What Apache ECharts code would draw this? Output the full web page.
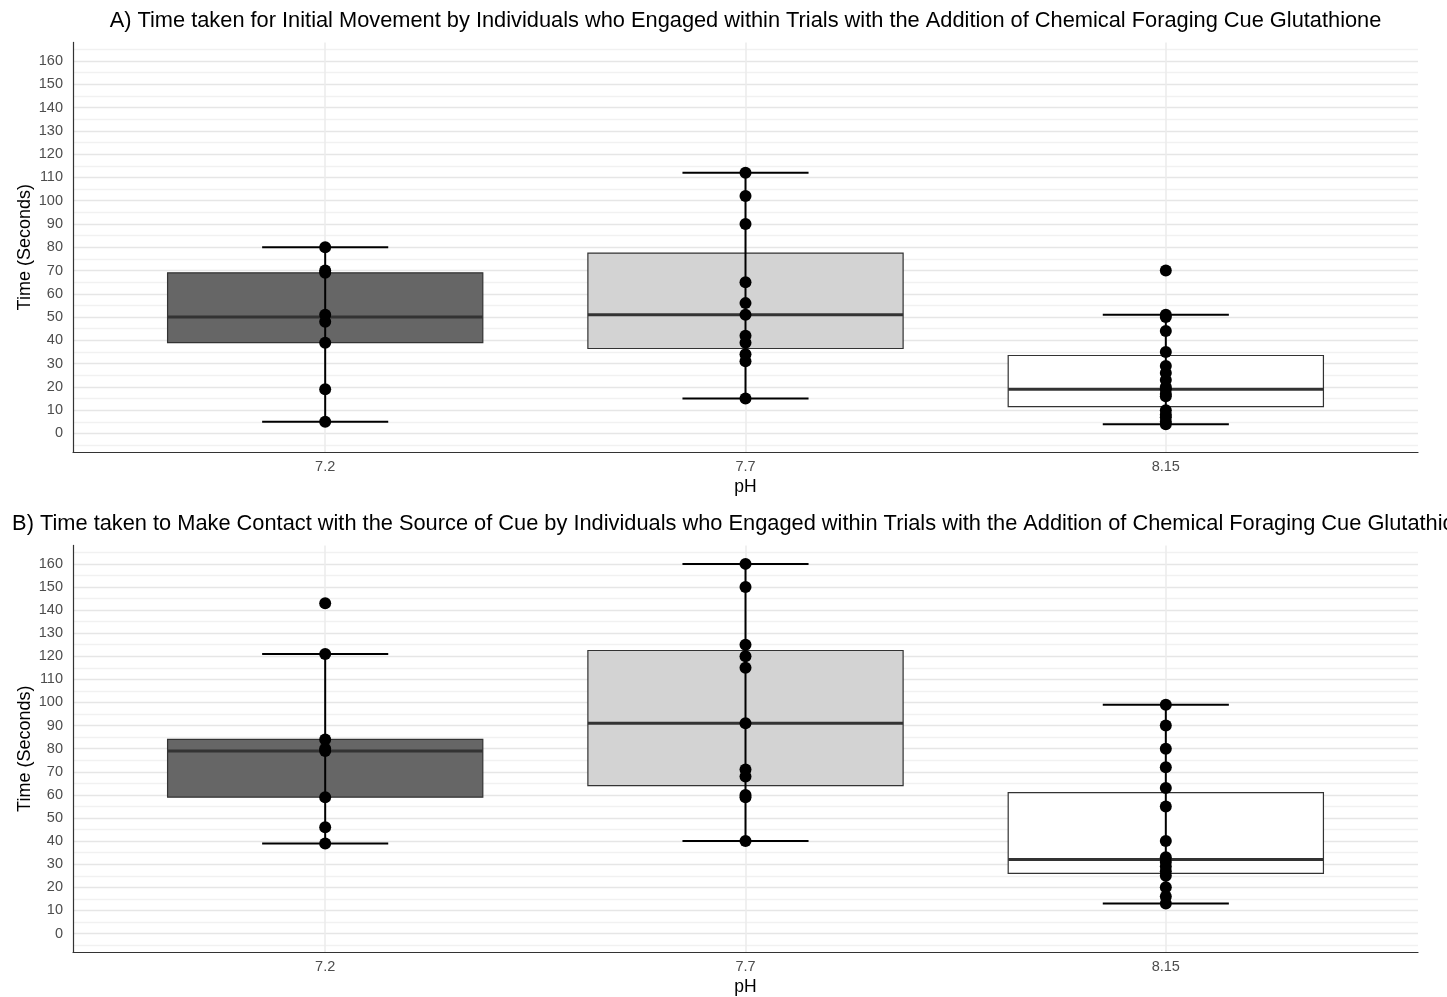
<!DOCTYPE html>
<html>
<head>
<meta charset="utf-8">
<script src="https://cdn.jsdelivr.net/npm/echarts@6/dist/echarts.min.js"></script>
<style>
html,body{margin:0;padding:0;background:#fff;}
#c{width:1447px;height:997px;}
</style>
</head>
<body>
<div id="c"></div>
<script>
// ---- data ----
const categories = ['7.2', '7.7', '8.15'];
const titleA = 'A) Time taken for Initial Movement by Individuals who Engaged within Trials with the Addition of Chemical Foraging Cue Glutathione';
const titleB = 'B) Time taken to Make Contact with the Source of Cue by Individuals who Engaged within Trials with the Addition of Chemical Foraging Cue Glutathione';
const yTickLabels = [0,10,20,30,40,50,60,70,80,90,100,110,120,130,140,150,160];
const yMinorBreaks = [-5,5,15,25,35,45,55,65,75,85,95,105,115,125,135,145,155,165];
const boxFills = ['#666666', '#d3d3d3', '#ffffff'];

// box stats: [whiskerMin, Q1, median, Q3, whiskerMax]
const boxA = [
  [5, 39, 50, 69, 80],
  [15, 36.5, 51, 77.5, 112],
  [4, 11.5, 19, 33.5, 51]
];
const pointsA_72 = [5, 19, 39, 48, 51, 69, 70, 80];
const pointsA_77 = [15, 31, 34, 39, 42, 51, 56, 65, 90, 102, 112];
const pointsA_815 = [4, 5, 7, 8, 10, 16, 17, 19, 20, 23, 26, 29, 35, 44, 50, 51, 70];

const boxB = [
  [39, 59, 79, 84, 121],
  [40, 64, 91, 122.5, 160],
  [13, 26, 32, 61, 99]
];
const pointsB_72 = [39, 46, 59, 79, 80, 84, 121, 143];
const pointsB_77 = [40, 59, 60, 68, 71, 91, 115, 120, 125, 150, 160];
const pointsB_815 = [13, 16, 20, 25, 27, 29, 31, 33, 40, 55, 63, 72, 80, 90, 99];

// ---- build ----
const FONT = '"Liberation Sans", Arial, Helvetica, sans-serif';
const majorBreaks = yTickLabels.slice();
const allYBreaks = [];
for (let i = 0; i < yMinorBreaks.length; i++) {
  allYBreaks.push(yMinorBreaks[i]);
  if (i < majorBreaks.length) allYBreaks.push(majorBreaks[i]);
}

const grids = [
  {left: 73, top: 42.4, width: 1345, height: 409.7},
  {left: 73, top: 545.4, width: 1345, height: 409.9}
];

function xAxisFor(gi) {
  return {
    type: 'value', gridIndex: gi, min: 0.4, max: 3.6,
    name: 'pH', nameLocation: 'middle', nameGap: 26, nameMoveOverlap: false,
    nameTextStyle: {fontFamily: FONT, fontSize: 17.5, color: '#000'},
    axisLine: {show: true, onZero: false, lineStyle: {color: '#333333', width: 1.2}},
    axisTick: {show: false, customValues: [1, 2, 3]},
    axisLabel: {customValues: [1, 2, 3], margin: 7, fontFamily: FONT, fontSize: 14.5, color: '#4d4d4d',
      formatter: v => categories[Math.round(v) - 1]},
    splitLine: {show: true, lineStyle: {color: '#ebebeb', width: 1.5}}
  };
}
function yAxisFor(gi) {
  return {
    type: 'value', gridIndex: gi, min: -8, max: 168,
    name: 'Time (Seconds)', nameLocation: 'middle', nameGap: 39, nameMoveOverlap: false,
    nameTextStyle: {fontFamily: FONT, fontSize: 18, color: '#000'},
    axisLine: {show: true, onZero: false, lineStyle: {color: '#333333', width: 1.2}},
    axisTick: {show: false, customValues: allYBreaks},
    axisLabel: {customValues: yTickLabels, margin: 10, fontFamily: FONT, fontSize: 14.5, color: '#4d4d4d'},
    splitLine: {show: true, lineStyle: {color: ['#f1f1f1', '#e6e6e6'], width: 1.3}}
  };
}

function boxSeries(gi, stats) {
  return {
    type: 'custom', xAxisIndex: gi, yAxisIndex: gi, z: 2,
    data: stats.map((s, i) => [i + 1, s[1], s[2], s[3]]),
    encode: {x: 0, y: [1, 2, 3]},
    renderItem: function (params, api) {
      const x = api.value(0);
      const top = api.coord([x, api.value(3)]);
      const bot = api.coord([x, api.value(1)]);
      const med = api.coord([x, api.value(2)]);
      const bw = api.size([0.75, 0])[0];
      return {
        type: 'group',
        children: [
          {type: 'rect', shape: {x: top[0] - bw / 2, y: top[1], width: bw, height: bot[1] - top[1]},
            style: {fill: boxFills[params.dataIndex], stroke: '#333333', lineWidth: 1.2}},
          {type: 'line', shape: {x1: top[0] - bw / 2, y1: med[1], x2: top[0] + bw / 2, y2: med[1]},
            style: {stroke: '#333333', lineWidth: 3}}
        ]
      };
    }
  };
}
function errSeries(gi, stats) {
  return {
    type: 'custom', xAxisIndex: gi, yAxisIndex: gi, z: 3,
    data: stats.map((s, i) => [i + 1, s[0], s[4]]),
    encode: {x: 0, y: [1, 2]},
    renderItem: function (params, api) {
      const x = api.value(0);
      const lo = api.coord([x, api.value(1)]);
      const hi = api.coord([x, api.value(2)]);
      const cw = api.size([0.3, 0])[0];
      const st = {stroke: '#000', lineWidth: 2};
      return {
        type: 'group',
        children: [
          {type: 'line', shape: {x1: lo[0], y1: lo[1], x2: hi[0], y2: hi[1]}, style: st},
          {type: 'line', shape: {x1: lo[0] - cw / 2, y1: lo[1], x2: lo[0] + cw / 2, y2: lo[1]}, style: st},
          {type: 'line', shape: {x1: hi[0] - cw / 2, y1: hi[1], x2: hi[0] + cw / 2, y2: hi[1]}, style: st}
        ]
      };
    }
  };
}
function pointSeries(gi, lists) {
  const data = [];
  lists.forEach((arr, i) => arr.forEach(v => data.push([i + 1, v])));
  return {
    type: 'scatter', xAxisIndex: gi, yAxisIndex: gi, z: 4,
    symbol: 'circle', symbolSize: 12, itemStyle: {color: '#000', opacity: 1},
    data: data, silent: true
  };
}

const option = {
  animation: false,
  backgroundColor: '#ffffff',
  grid: grids,
  xAxis: [xAxisFor(0), xAxisFor(1)],
  yAxis: [yAxisFor(0), yAxisFor(1)],
  graphic: [
    {type: 'text', x: 745.5, y: 21, style: {text: titleA, font: '21.8px ' + FONT, fill: '#000', align: 'center', verticalAlign: 'middle'}},
    {type: 'text', x: 745.5, y: 524, style: {text: titleB, font: '21.8px ' + FONT, fill: '#000', align: 'center', verticalAlign: 'middle'}}
  ],
  series: [
    boxSeries(0, boxA), errSeries(0, boxA), pointSeries(0, [pointsA_72, pointsA_77, pointsA_815]),
    boxSeries(1, boxB), errSeries(1, boxB), pointSeries(1, [pointsB_72, pointsB_77, pointsB_815])
  ]
};

const chart = echarts.init(document.getElementById('c'), null, {renderer: 'canvas'});
chart.setOption(option);
</script>
</body>
</html>
